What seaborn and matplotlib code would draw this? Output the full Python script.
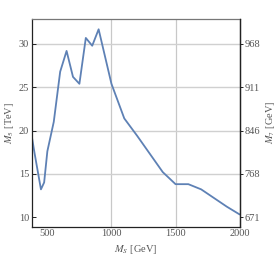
import matplotlib
matplotlib.use("Agg")
import matplotlib.pyplot as plt
import seaborn as sns
import pandas as pd
from matplotlib.ticker import MultipleLocator, FixedLocator

# values
m_s = [380, 400, 450, 475, 500, 550, 600, 650, 700, 750, 800, 850, 900,
       1000, 1100, 1200, 1300, 1400, 1500, 1600, 1700, 1800, 1900, 2000]
m_5 = [19.2, 17.4, 13.2, 14.0, 17.6, 21.0, 26.8, 29.2, 26.2, 25.4, 30.7, 29.8, 31.7,
       25.4, 21.4, 19.4, 17.3, 15.2, 13.8, 13.8, 13.2, 12.2, 11.2, 10.3]
left_ticks = [10, 15, 20, 25, 30]
right_labels = ['671', '768', '846', '911', '968']

df = pd.DataFrame({'MS': m_s, 'M5': m_5})

sns.set_theme(style='white')
plt.rcParams['font.family'] = ['Liberation Serif', 'DejaVu Serif']
plt.rcParams['mathtext.fontset'] = 'stix'

tick_gray = '#555555'

fig = plt.figure(figsize=(2.78, 2.78), dpi=100)
ax = fig.add_axes([0.115, 0.185, 0.747, 0.747])

sns.lineplot(data=df, x='MS', y='M5', ax=ax, color='#5E81B5', linewidth=1.3)

ax.set_xlim(380, 2000)
ax.set_ylim(8.9, 32.9)

ax.xaxis.set_major_locator(FixedLocator([500, 1000, 1500, 2000]))
ax.xaxis.set_minor_locator(MultipleLocator(100))
ax.yaxis.set_major_locator(FixedLocator(left_ticks))

# Mathematica-style grid: vertical at 1000/1500, horizontal at 15..30
for gx in [1000, 1500]:
    ax.axvline(gx, color='#c8c8c8', linewidth=0.9, zorder=0)
for gy in [15, 20, 25, 30]:
    ax.axhline(gy, color='#d0d0d0', linewidth=1.0, zorder=0)

ax.tick_params(axis='both', which='major', direction='in', length=3, width=0.7,
               colors='#222222', labelcolor=tick_gray, labelsize=7.5, pad=2)
ax.tick_params(axis='x', which='minor', direction='in', length=1.8, width=0.6,
               colors='#222222')
ax.tick_params(top=False, right=False)

for side in ['left', 'bottom', 'right']:
    ax.spines[side].set_color('#222222')
    ax.spines[side].set_linewidth(0.9)
ax.spines['top'].set_color('#777777')
ax.spines['top'].set_linewidth(0.9)

ax.set_xlabel('$M_S$ [GeV]', fontsize=7.5, color=tick_gray, labelpad=3)
ax.set_ylabel('$M_5$ [TeV]', fontsize=7.5, color=tick_gray, labelpad=2)

ax2 = ax.twinx()
ax2.set_ylim(ax.get_ylim())
ax2.yaxis.set_major_locator(FixedLocator(left_ticks))
ax2.set_yticklabels(right_labels)
ax2.tick_params(axis='y', direction='out', length=2.5, width=0.7, colors='#222222',
                labelcolor=tick_gray, labelsize=7.5, pad=1)
for side in ['left', 'bottom', 'top']:
    ax2.spines[side].set_visible(False)
ax2.spines['right'].set_color('#222222')
ax2.spines['right'].set_linewidth(0.9)
ax2.set_ylabel('$M_7$ [GeV]', fontsize=7.5, color=tick_gray, labelpad=3)

fig.savefig('out.png', dpi=100)
